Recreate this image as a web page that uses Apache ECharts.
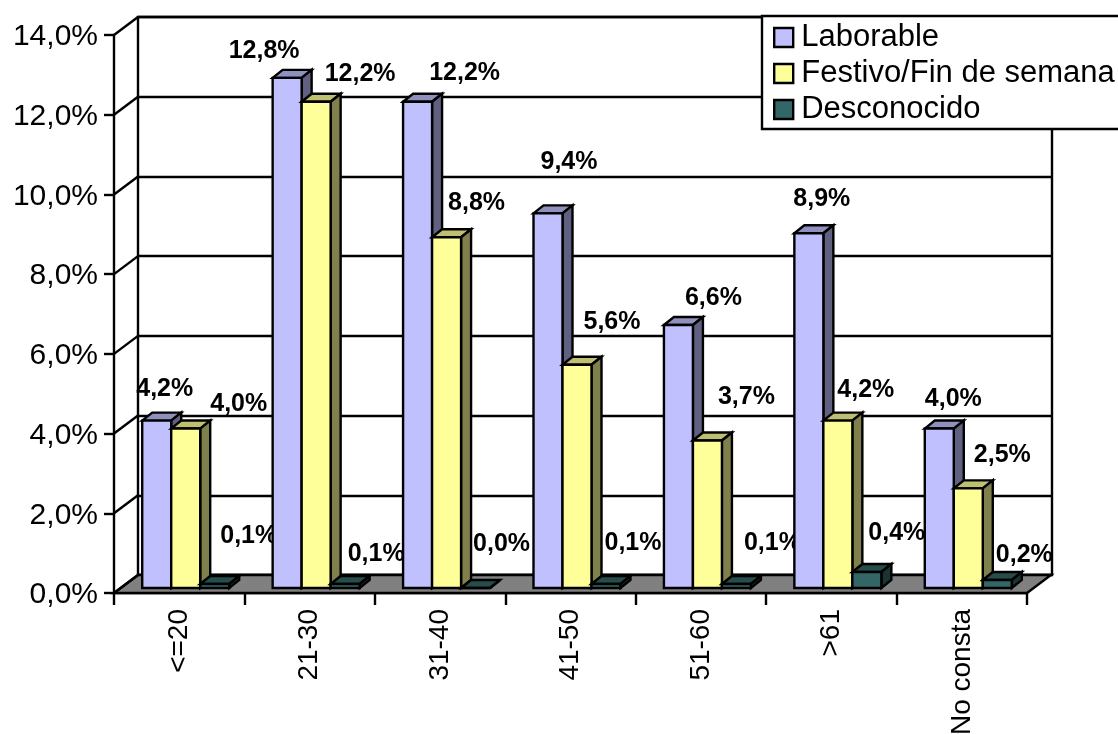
<!DOCTYPE html>
<html>
<head>
<meta charset="utf-8">
<style>html,body{margin:0;padding:0;background:#fff;overflow:hidden}#c{width:1118px;height:734px}</style>
<script src="https://cdn.jsdelivr.net/npm/echarts@6/dist/echarts.min.js"></script>
</head>
<body>
<div id="c"></div>
<script>
const categories = ['<=20','21-30','31-40','41-50','51-60','>61','No consta'];
const laborable = [4.2,12.8,12.2,9.4,6.6,8.9,4.0];
const festivo = [4.0,12.2,8.8,5.6,3.7,4.2,2.5];
const desconocido = [0.1,0.1,0.0,0.1,0.1,0.4,0.2];
const yTicks = [0,2,4,6,8,10,12,14];

// Hand placement of the data labels, relative to each bar's top centre
const labelShiftLaborable = [[8,-33],[-23,-29],[47,-31],[21,-53],[35,-29],[13,-36],[14,-31]];
const labelShiftFestivo = [[53,-26],[44,-30],[30,-36],[35,-45],[39,-45],[28,-32],[34,-35]];
const labelShiftDesconocido = [[34,-50],[31,-32],[26,-46],[27,-43],[36,-43],[30,-41],[27,-27]];

const FONT = '"Liberation Sans", Arial, sans-serif';
const WALL_DX = 24, WALL_DY = -18;
const BAR_DX = 6.5, BAR_DY = -5, BAR_W = 29, DEPTH_X = 10, DEPTH_Y = -8;
const LABEL_NUDGE_Y = 2, LW = 2.4;
const fmt = v => v.toFixed(1).replace('.', ',') + '%';

const palette = [
  {name:'Laborable', front:'#C0C0FF', top:'#9090BF', side:'#606080', values:laborable, shift:labelShiftLaborable},
  {name:'Festivo/Fin de semana', front:'#FFFF99', top:'#BFBF73', side:'#80804D', values:festivo, shift:labelShiftFestivo},
  {name:'Desconocido', front:'#336666', top:'#264C4C', side:'#1A3333', values:desconocido, shift:labelShiftDesconocido}
];
const line = {stroke:'#000', lineWidth:LW, lineJoin:'miter'};

function barSeries(s, idx) {
  return {
    name: s.name, type:'custom', xAxisIndex:0, yAxisIndex:0, z:3, clip:false,
    itemStyle:{color:s.front},
    encode:{x:0,y:1},
    data: categories.map((c,i)=>[c, s.values[i]]),
    renderItem(params, api) {
      const top = api.coord([api.value(0), api.value(1)]);
      const base = api.coord([api.value(0), 0]);
      const l = top[0] + BAR_DX + (idx - 1.5) * BAR_W, r = l + BAR_W;
      const t = top[1] + BAR_DY, b = base[1] + BAR_DY;
      return {type:'group', children:[
        {type:'polygon', shape:{points:[[l,t],[l+DEPTH_X,t+DEPTH_Y],[r+DEPTH_X,t+DEPTH_Y],[r,t]]}, style:{fill:s.top, ...line}},
        {type:'polygon', shape:{points:[[r,t],[r+DEPTH_X,t+DEPTH_Y],[r+DEPTH_X,b+DEPTH_Y],[r,b]]}, style:{fill:s.side, ...line}},
        {type:'rect', shape:{x:l,y:t,width:BAR_W,height:b-t}, style:{fill:s.front, ...line}}
      ]};
    }
  };
}

function labelSeries(s, idx) {
  return {
    name:'labels'+idx, type:'custom', xAxisIndex:0, yAxisIndex:0, z:2, clip:false, silent:true,
    encode:{x:0,y:1},
    data: categories.map((c,i)=>[c, s.values[i], i]),
    renderItem(params, api) {
      const top = api.coord([api.value(0), api.value(1)]);
      const sh = s.shift[api.value(2)];
      const cx = top[0] + BAR_DX + (idx - 1) * BAR_W;
      return {type:'text', style:{
        text: fmt(api.value(1)), x: cx + sh[0], y: top[1] + BAR_DY + sh[1] + LABEL_NUDGE_Y,
        align:'center', verticalAlign:'middle', fill:'#000',
        font:'bold 25px ' + FONT
      }};
    }
  };
}

const floorSeries = {
  name:'floor', type:'custom', xAxisIndex:0, yAxisIndex:0, z:1, clip:false, silent:true,
  encode:{y:1},
  data:[[categories[0],0]],
  renderItem(params, api) {
    const g = params.coordSys, y0 = g.y + g.height, x0 = g.x, x1 = g.x + g.width;
    return {type:'polygon', shape:{points:[[x0,y0],[x1,y0],[x1+WALL_DX,y0+WALL_DY],[x0+WALL_DX,y0+WALL_DY]]},
      style:{fill:'#808080', ...line}};
  }
};

const wallSeries = {
  name:'wall', type:'custom', xAxisIndex:0, yAxisIndex:0, z:1, clip:false, silent:true,
  encode:{y:1},
  data: yTicks.map(v=>[categories[0], v]),
  renderItem(params, api) {
    const g = params.coordSys, p = api.coord([api.value(0), api.value(1)]);
    return {type:'line', shape:{x1:g.x,y1:p[1],x2:g.x+WALL_DX,y2:p[1]+WALL_DY}, style:{...line, fill:null}};
  }
};

const axisLine = {show:true, onZero:false, lineStyle:{color:'#000', width:LW}};
const option = {
  animation:false,
  backgroundColor:'#fff',
  textStyle:{fontFamily:FONT},
  grid:[
    {left:114, top:35, width:913, height:558, outerBoundsMode:'none'},
    {left:138, top:17, width:914, height:558, outerBoundsMode:'none', show:true, backgroundColor:'#fff', borderColor:'#000', borderWidth:LW}
  ],
  xAxis:[
    {type:'category', gridIndex:0, data:categories, axisLine,
     axisTick:{show:true, length:12, lineStyle:{color:'#000', width:LW}},
     axisLabel:{interval:0, rotate:90, fontSize:28, color:'#000', margin:16, fontFamily:FONT}},
    {type:'category', gridIndex:1, data:categories, show:false}
  ],
  yAxis:[
    {type:'value', gridIndex:0, min:0, max:14, interval:2, axisLine,
     axisTick:{show:true, length:10, lineStyle:{color:'#000', width:LW}},
     splitLine:{show:false},
     axisLabel:{formatter:v=>fmt(v), fontSize:30, color:'#000', margin:16, verticalAlign:'top', lineHeight:4, fontFamily:FONT}},
    {type:'value', gridIndex:1, min:0, max:14, interval:2, axisLine:{show:false}, axisTick:{show:false}, axisLabel:{show:false},
     splitLine:{show:true, lineStyle:{color:'#000', width:LW}}}
  ],
  legend:{
    left:762, top:16, orient:'vertical', align:'left',
    backgroundColor:'#fff', borderColor:'#000', borderWidth:LW, borderRadius:0,
    padding:[6,12,4,11], itemGap:5, itemWidth:19, itemHeight:19, selectedMode:false,
    textStyle:{fontSize:31, color:'#000', fontFamily:FONT, padding:[0,0,0,3]},
    data: palette.map(s=>({name:s.name, icon:'rect', itemStyle:{color:s.front, borderColor:'#000', borderWidth:LW}}))
  },
  series:[
    floorSeries, wallSeries,
    ...palette.map(labelSeries),
    ...palette.map(barSeries)
  ]
};
echarts.init(document.getElementById('c'), null, {renderer:'canvas'}).setOption(option);
</script>
</body>
</html>
